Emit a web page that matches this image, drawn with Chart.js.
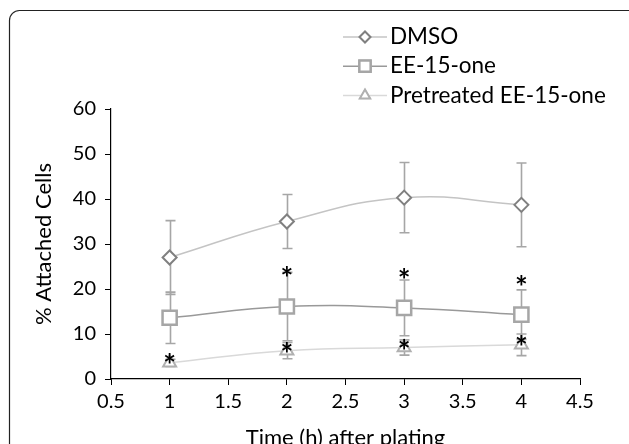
<!DOCTYPE html>
<html>
<head>
<meta charset="utf-8">
<script src="https://cdn.jsdelivr.net/npm/chart.js@4"></script>
<style>
  html, body { margin: 0; padding: 0; background: #fff; overflow: hidden; }
  #wrap { width: 629px; height: 444px; overflow: hidden; }
</style>
</head>
<body>
<div id="wrap"><canvas id="chart" width="629" height="470"></canvas></div>
<script>
// ---- data ----
const times = [1, 2, 3, 4];
const seriesNames = ['DMSO', 'EE-15-one', 'Pretreated EE-15-one'];

const dmso    = [27.0, 35.0, 40.3, 38.7];
const dmsoErr = [8.2, 6.0, 7.8, 9.3];
const ee      = [13.6, 16.1, 15.8, 14.3];
const eeErr   = [5.7, 7.6, 6.2, 5.5];
const pre     = [3.6, 6.3, 7.0, 7.6];
const preErr  = [0.8, 1.8, 1.7, 2.4];

// where the significance asterisks sit (y value), null = none
const eeStars  = [null, 23.8, 23.3, 21.8];
const preStars = [4.5, 7.0, 7.7, 8.5];

const xTicks = { min: 0.5, max: 4.5, step: 0.5 };
const yTicks = { min: 0, max: 60, step: 10 };

const FONT = 'Lato, "Open Sans", sans-serif';

const pts = (ys) => times.map((t, i) => ({ x: t, y: ys[i] }));

// ---- frame round the figure ----
const framePlugin = {
  id: 'frame',
  beforeDraw(chart) {
    const ctx = chart.ctx;
    ctx.save();
    ctx.strokeStyle = '#222';
    ctx.lineWidth = 1.2;
    ctx.beginPath();
    ctx.roundRect(9.5, 10.5, 640, 500, 10);
    ctx.stroke();
    ctx.restore();
  }
};

// ---- error bars, behind the markers ----
const errorBarPlugin = {
  id: 'errorBars',
  beforeDatasetsDraw(chart) {
    const ctx = chart.ctx;
    const xs = chart.scales.x, ys = chart.scales.y;
    ctx.save();
    ctx.strokeStyle = '#a6a6a6';
    ctx.lineWidth = 1.6;
    chart.data.datasets.forEach(ds => {
      ds.data.forEach((p, i) => {
        const e = ds.err[i];
        const x = Math.round(xs.getPixelForValue(p.x)) + 0.5;
        const yt = ys.getPixelForValue(p.y + e);
        const yb = ys.getPixelForValue(p.y - e);
        ctx.beginPath();
        ctx.moveTo(x, yt); ctx.lineTo(x, yb);
        ctx.moveTo(x - 5, yt); ctx.lineTo(x + 5, yt);
        ctx.moveTo(x - 5, yb); ctx.lineTo(x + 5, yb);
        ctx.stroke();
      });
    });
    ctx.restore();
  }
};

// ---- asterisks + legend ----
const overlayPlugin = {
  id: 'overlay',
  afterDatasetsDraw(chart) {
    const ctx = chart.ctx;
    const xs = chart.scales.x, ys = chart.scales.y;
    ctx.save();
    ctx.fillStyle = '#000';
    ctx.font = 'bold 30px ' + FONT;
    ctx.textAlign = 'center';
    ctx.textBaseline = 'middle';
    [eeStars, preStars].forEach(arr => {
      arr.forEach((v, i) => {
        if (v === null) return;
        ctx.fillText('*', xs.getPixelForValue(times[i]), ys.getPixelForValue(v) + 7.5);
      });
    });
    ctx.restore();

    // legend, stacked vertically above the plot
    ctx.save();
    chart.data.datasets.forEach((ds, i) => {
      const y = 37 + i * 29.2;
      ctx.strokeStyle = ds.borderColor;
      ctx.lineWidth = 1.5;
      ctx.beginPath();
      ctx.moveTo(343, y); ctx.lineTo(387, y);
      ctx.stroke();
      Chart.helpers.drawPoint(ctx, {
        pointStyle: ds.pointStyle,
        radius: ds.legendRadius,
        rotation: 0,
        borderWidth: ds.pointBorderWidth
      }, 365, y);
      ctx.fillStyle = '#fff';
      ctx.strokeStyle = ds.pointBorderColor;
      ctx.lineWidth = ds.pointBorderWidth;
      ctx.fill();
      ctx.stroke();
      ctx.fillStyle = '#000';
      ctx.font = '22.5px ' + FONT;
      ctx.textAlign = 'left';
      ctx.textBaseline = 'middle';
      ctx.fillText(ds.label, 390, y);
    });
    ctx.restore();
  }
};

function series(label, data, err, lineCol, markCol, style, r, lr, bw) {
  return {
    label, data: pts(data), err,
    borderColor: lineCol, borderWidth: 1.5,
    pointStyle: style, pointRadius: r, pointHoverRadius: r,
    pointBackgroundColor: '#fff', pointBorderColor: markCol, pointBorderWidth: bw,
    legendRadius: lr,
    tension: 0.45, fill: false
  };
}

new Chart(document.getElementById('chart'), {
  type: 'line',
  data: {
    datasets: [
      series(seriesNames[0], dmso, dmsoErr, '#c4c4c4', '#808080', 'rectRot', 7, 5.5, 2),
      series(seriesNames[1], ee, eeErr, '#999999', '#a6a6a6', 'rect', 10, 8, 2.5),
      series(seriesNames[2], pre, preErr, '#d9d9d9', '#b0b0b0', 'triangle', 7.5, 6, 2),
    ]
  },
  options: {
    responsive: false,
    devicePixelRatio: 1,
    animation: false,
    layout: { padding: { top: 109, right: 49, left: 0, bottom: 0 } },
    plugins: { legend: { display: false }, tooltip: { enabled: false } },
    scales: {
      x: {
        type: 'linear',
        min: xTicks.min, max: xTicks.max,
        afterFit: (s) => { s.height = 91; },
        ticks: {
          stepSize: xTicks.step, color: '#000', font: { size: 20, family: FONT }, padding: 5,
          callback: (v) => String(v)
        },
        grid: { drawOnChartArea: false, drawTicks: true, tickLength: 6, color: '#000' },
        border: { color: '#000', width: 1.2 },
        title: {
          display: true, text: 'Time (h) after plating', color: '#000',
          font: { size: 22, family: FONT }, padding: { top: 0, bottom: 19 }
        }
      },
      y: {
        min: yTicks.min, max: yTicks.max,
        afterFit: (s) => { s.width = 111; },
        ticks: { stepSize: yTicks.step, color: '#000', font: { size: 20, family: FONT }, padding: 9 },
        grid: { drawOnChartArea: false, drawTicks: true, tickLength: 6, color: '#000' },
        border: { color: '#000', width: 1.2 },
        title: {
          display: true, text: '% Attached Cells', color: '#000',
          font: { size: 22, family: FONT }, padding: { top: 31, bottom: 0 }
        }
      }
    }
  },
  plugins: [framePlugin, errorBarPlugin, overlayPlugin]
});
</script>
</body>
</html>
